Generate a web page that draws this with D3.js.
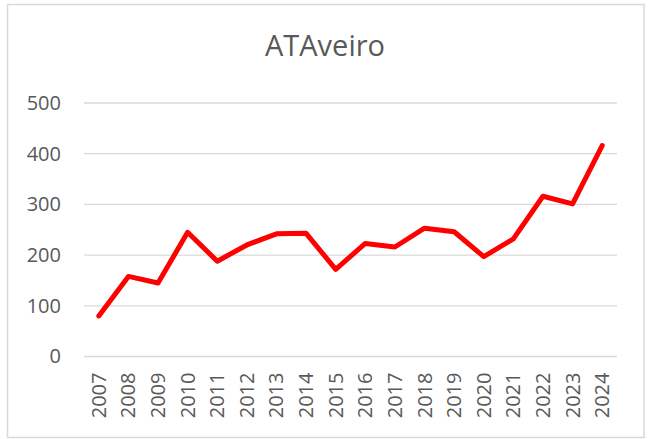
<!DOCTYPE html>
<html>
<head>
<meta charset="utf-8">
<script src="https://cdn.jsdelivr.net/npm/d3@7"></script>
<style>
  body { margin: 0; background: #fff; }
  text { font-family: "Open Sans", sans-serif; fill: #595959; }
</style>
</head>
<body>
<div id="chart"></div>
<script>
// Chart data
var years = ["2007", "2008", "2009", "2010", "2011", "2012", "2013", "2014", "2015",
             "2016", "2017", "2018", "2019", "2020", "2021", "2022", "2023", "2024"];
var values = [80, 158, 145, 245, 188, 220, 242, 243, 172,
              223, 216, 253, 246, 197, 232, 316, 301, 416];
var yTicks = [0, 100, 200, 300, 400, 500];
var chartTitle = "ATAveiro";

var svgWidth = 648;
var svgHeight = 439;

var margin = { top: 103, right: 31, bottom: 83, left: 84 };
var chartWidth = 617 - margin.left;
var chartHeight = 356.5 - margin.top;

var svg = d3.select("#chart")
  .append("svg")
  .attr("width", svgWidth)
  .attr("height", svgHeight);

// Outer frame
svg.append("rect")
  .attr("x", 7.5)
  .attr("y", 4.5)
  .attr("width", 636.5)
  .attr("height", 433)
  .attr("fill", "#fff")
  .attr("stroke", "#d9d9d9")
  .attr("stroke-width", 1.5);

var chartGroup = svg.append("g")
  .attr("transform", `translate(${margin.left}, ${margin.top})`);

var xScale = d3.scaleBand()
  .domain(years)
  .range([0, chartWidth]);

var yScale = d3.scaleLinear()
  .domain([0, 500])
  .range([chartHeight, 0]);

// Gridlines
chartGroup.append("g")
  .selectAll("line")
  .data(yTicks)
  .join("line")
  .attr("x1", 0)
  .attr("x2", chartWidth)
  .attr("y1", d => yScale(d))
  .attr("y2", d => yScale(d))
  .attr("stroke", "#d9d9d9")
  .attr("stroke-width", 1.3);

// Y axis labels
var leftAxis = d3.axisLeft(yScale).tickValues(yTicks).tickSize(0).tickPadding(23);
chartGroup.append("g")
  .call(leftAxis)
  .call(g => g.select(".domain").remove())
  .selectAll("text")
  .attr("font-size", "20px")
  .attr("font-family", "Open Sans, sans-serif")
  .attr("fill", "#595959");

// X axis labels
var bottomAxis = d3.axisBottom(xScale).tickSize(0).tickPadding(0);
chartGroup.append("g")
  .attr("transform", `translate(0, ${chartHeight})`)
  .call(bottomAxis)
  .call(g => g.select(".domain").remove())
  .selectAll("text")
  .attr("font-size", "20px")
  .attr("font-family", "Open Sans, sans-serif")
  .attr("fill", "#595959")
  .attr("text-anchor", "end")
  .attr("transform", "rotate(-90)")
  .attr("x", -16)
  .attr("y", 0)
  .attr("dy", "0.35em");

// Line
var line = d3.line()
  .x((d, i) => xScale(years[i]) + xScale.bandwidth() / 2)
  .y(d => yScale(d));

chartGroup.append("path")
  .datum(values)
  .attr("d", line)
  .attr("fill", "none")
  .attr("stroke", "#ff0000")
  .attr("stroke-width", 5)
  .attr("stroke-linejoin", "round")
  .attr("stroke-linecap", "round");

// Title
svg.append("text")
  .attr("x", 325)
  .attr("y", 56)
  .attr("text-anchor", "middle")
  .attr("font-size", "29px")
  .text(chartTitle);
</script>
</body>
</html>
